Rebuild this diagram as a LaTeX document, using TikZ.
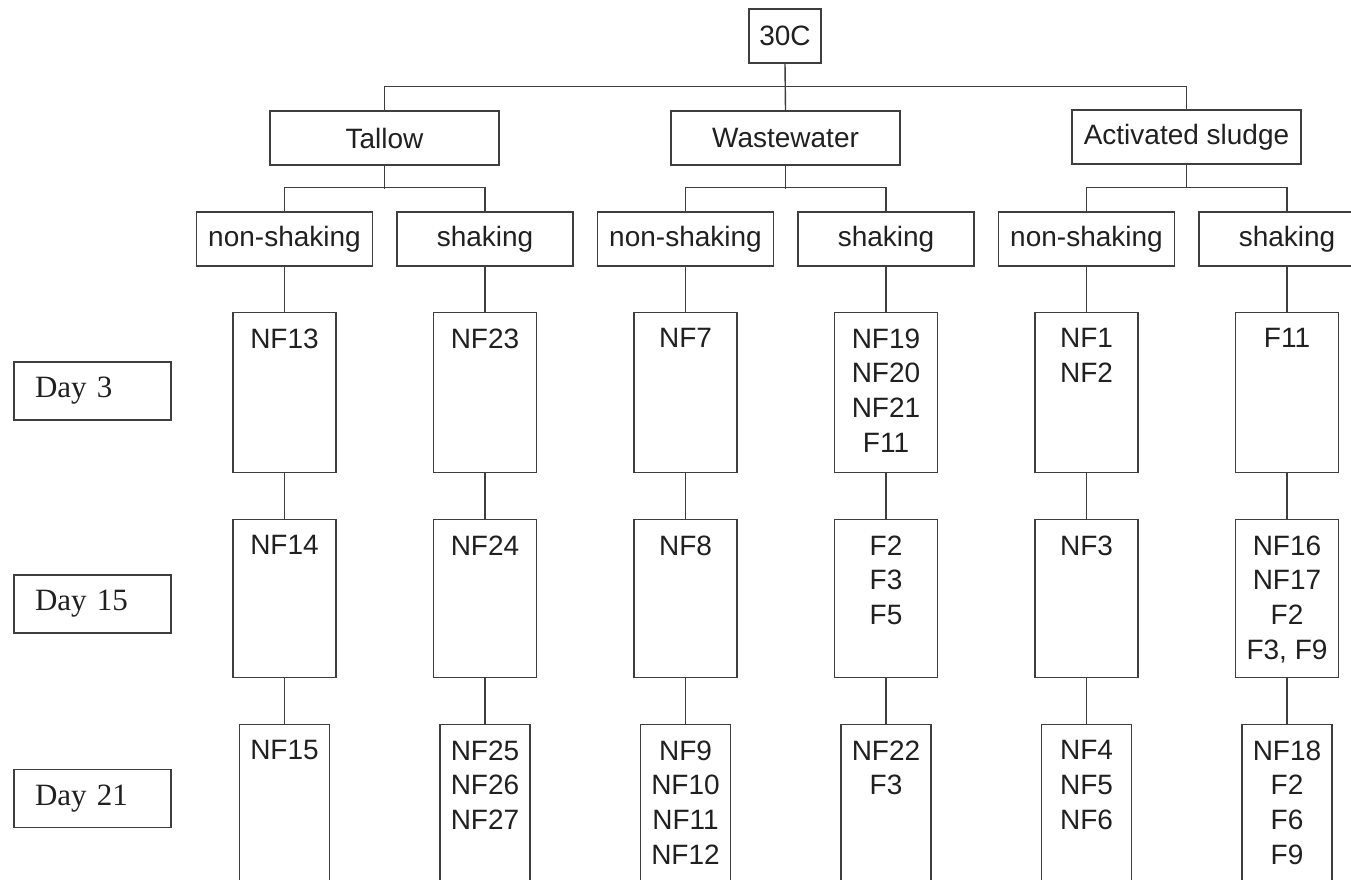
\documentclass[tikz,border=0pt]{standalone}
\usepackage{fontspec}
\setmainfont{Liberation Sans}
\newfontfamily\dayfont{Liberation Serif}
\usetikzlibrary{positioning, calc}
\definecolor{TreeLine}{RGB}{62, 62, 62}
\definecolor{TreeText}{RGB}{32, 32, 32}

\tikzset{
  box/.style={draw=TreeLine, line width=1.4pt, rectangle, inner sep=0pt, text=TreeText,
    font=\fontsize{28}{34.7}\selectfont},
  topbox/.style={box, minimum width=72pt, minimum height=54pt},
  srcbox/.style={box, minimum width=229pt, minimum height=54pt},
  modebox/.style={box, minimum width=176pt, minimum height=54pt},
  isobox/.style={box, anchor=north},
  isolist/.style={anchor=north, inner sep=0pt, align=center, text=TreeText,
    font=\fontsize{28}{34.7}\selectfont, yshift=-16.5pt},
  daybox/.style={box, font=\dayfont\fontsize{31}{36}\selectfont, minimum width=157pt,
    minimum height=58pt, text width=115pt, inner xsep=21pt, align=left},
  conn/.style={draw=TreeLine, line width=1.4pt},
}

\begin{document}
\begin{tikzpicture}[x=1pt,y=-1pt]
  \path[use as bounding box] (0,0) rectangle (1351,880);
  \clip (0,0) rectangle (1351,880);

  % temperature and inoculum sources
  \node[topbox] (temp) at (785,36) {30C};
  \node[srcbox] (tallow) at (384.5,138) {Tallow};
  \node[srcbox] (waste) at (785.5,138) {Wastewater};
  \node[srcbox] (sludge) at (1186.5,137) {Activated sludge};
  \draw[conn] (tallow.north) -- ++(0,-24) -| (sludge.north);
  \draw[conn] (temp.south) -- (waste.north);

  % culture mode
  \foreach \i/\mode in {1/non-shaking,2/shaking,3/non-shaking,4/shaking,5/non-shaking,6/shaking}{
    \node[modebox] (mode\i) at ({284.5+200.5*(\i-1)},239) {\mode};
  }
  \foreach \src/\a/\b in {tallow/1/2, waste/3/4, sludge/5/6}{
    \draw[conn] (mode\a.north) -- ++(0,-24) -| (mode\b.north);
    \draw[conn] (\src.south) -- ++(0,23);
  }

  % sampling days
  \node[daybox] (day3) at (92.5,391) {Day 3};
  \node[daybox] (day15) at (92.5,604) {Day 15};
  \node[daybox] (day21) at (92.5,798.5) {Day 21};

  % isolates
  \foreach \i/\dA/\dB/\dC in {
      1/NF13/NF14/NF15,
      2/NF23/NF24/{NF25\\NF26\\NF27},
      3/NF7/NF8/{NF9\\NF10\\NF11\\NF12},
      4/{NF19\\NF20\\NF21\\F11}/{F2\\F3\\F5}/{NF22\\F3},
      5/{NF1\\NF2}/NF3/{NF4\\NF5\\NF6},
      6/F11/{NF16\\NF17\\F2\\F3, F9}/{NF18\\F2\\F6\\F9}}{
    \node[isobox, minimum width=103pt, minimum height=160pt, label={[isolist]north:{\dA}}]
      (dA\i) at ({284.5+200.5*(\i-1)},312) {};
    \node[isobox, minimum width=103pt, minimum height=158pt, label={[isolist]north:{\dB}}]
      (dB\i) at ({284.5+200.5*(\i-1)},519) {};
    \node[isobox, minimum width=90pt, minimum height=200pt, label={[isolist]north:{\dC}}]
      (dC\i) at ({284.5+200.5*(\i-1)},724) {};
    \draw[conn] (mode\i.south) -- (dA\i.north);
    \draw[conn] (dA\i.south) -- (dB\i.north);
    \draw[conn] (dB\i.south) -- (dC\i.north);
  }
\end{tikzpicture}
\end{document}
